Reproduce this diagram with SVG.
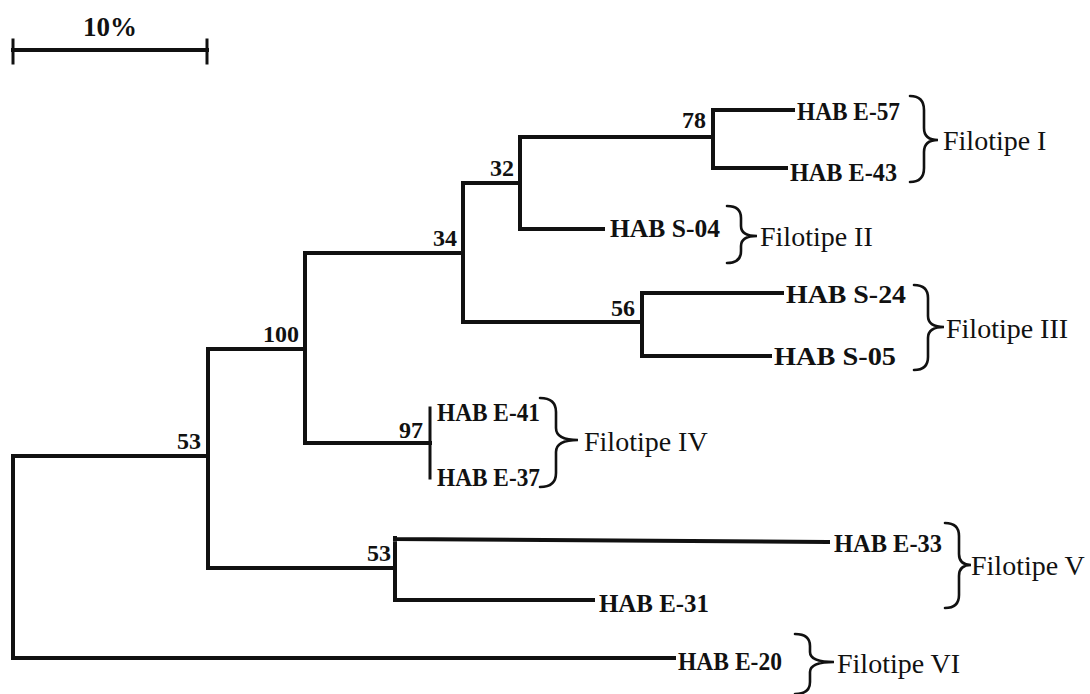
<svg xmlns="http://www.w3.org/2000/svg" width="1090" height="694" viewBox="0 0 1090 694">
<style>
.br{fill:none;stroke:#111;stroke-width:4;stroke-linecap:square}
.thin{stroke-width:3}
.leaf{font-family:"Liberation Serif",serif;font-weight:bold;font-size:25px;fill:#111}
.bs{font-family:"Liberation Serif",serif;font-weight:bold;font-size:24px;fill:#111;text-anchor:end}
.ft{font-family:"Liberation Serif",serif;font-size:28px;fill:#111}
.brace{fill:none;stroke:#111;stroke-width:2.6;stroke-linecap:round}
</style>
<rect width="1090" height="694" fill="#ffffff"/>
<g id="scale">
<line class="br" x1="13" y1="50" x2="207" y2="50"/>
<line class="br thin" x1="13" y1="40" x2="13" y2="63"/>
<line class="br thin" x1="207" y1="40" x2="207" y2="63"/>
<text x="110" y="36" text-anchor="middle" style="font-family:'Liberation Serif',serif;font-weight:bold;font-size:27px;fill:#111">10%</text>
</g>
<g id="connectors">
<path class="br" d="M13,456 V658 M13,456 H208 M13,658 H674"/>
<path class="br" d="M208,349 V568 M208,349 H305 M208,568 H395"/>
<path class="br" d="M305,253 V443 M305,253 H463 M305,443 H430"/>
<path class="br thin" d="M430,408 V478"/>
<path class="br" d="M463,183 V322 M463,183 H520 M463,322 H642"/>
<path class="br" d="M520,137 V229 M520,137 H713 M520,229 H603"/>
<path class="br" d="M713,110 V168 M713,110 H793 M713,168 H786"/>
<path class="br" d="M642,293 V356 M642,293 H782 M642,356 H770"/>
<path class="br" d="M395,538 V600 M395,539 L828,542 M395,600 H593"/>
</g>
<g id="bootstrap">
<text class="bs" x="706" y="128">78</text>
<text class="bs" x="514" y="176">32</text>
<text class="bs" x="457" y="246">34</text>
<text class="bs" x="635" y="316">56</text>
<text class="bs" x="299" y="342">100</text>
<text class="bs" x="423" y="438">97</text>
<text class="bs" x="201" y="449">53</text>
<text class="bs" x="391" y="561">53</text>
</g>
<g id="leaf-E57"><text class="leaf" x="797" y="120" textLength="103" lengthAdjust="spacingAndGlyphs">HAB E-57</text></g>
<g id="leaf-E43"><text class="leaf" x="790" y="181" textLength="107" lengthAdjust="spacingAndGlyphs">HAB E-43</text></g>
<g id="leaf-S04"><text class="leaf" x="610" y="237" textLength="110" lengthAdjust="spacingAndGlyphs">HAB S-04</text></g>
<g id="leaf-S24"><text class="leaf" x="786" y="303" textLength="120" lengthAdjust="spacingAndGlyphs">HAB S-24</text></g>
<g id="leaf-S05"><text class="leaf" x="774" y="365" textLength="122" lengthAdjust="spacingAndGlyphs">HAB S-05</text></g>
<g id="leaf-E41"><text class="leaf" x="437" y="421" textLength="103" lengthAdjust="spacingAndGlyphs">HAB E-41</text></g>
<g id="leaf-E37"><text class="leaf" x="437" y="486" textLength="103" lengthAdjust="spacingAndGlyphs">HAB E-37</text></g>
<g id="leaf-E33"><text class="leaf" x="834" y="552" textLength="108" lengthAdjust="spacingAndGlyphs">HAB E-33</text></g>
<g id="leaf-E31"><text class="leaf" x="599" y="612" textLength="110" lengthAdjust="spacingAndGlyphs">HAB E-31</text></g>
<g id="leaf-E20"><text class="leaf" x="678" y="670" textLength="104" lengthAdjust="spacingAndGlyphs">HAB E-20</text></g>
<g id="filotipe-I">
<path class="brace" d="M910,96 Q924,96 924,110 V128 Q924,140 938,140 Q924,140 924,152 V168 Q924,182 910,182"/>
<text class="ft" x="943" y="150">Filotipe I</text>
</g>
<g id="filotipe-II">
<path class="brace" d="M727,206 Q741,206 741,218 V226 Q741,236 757,236 Q741,236 741,246 V251 Q741,263 727,263"/>
<text class="ft" x="760" y="246">Filotipe II</text>
</g>
<g id="filotipe-III">
<path class="brace" d="M914,285 Q928,285 928,298 V316 Q928,327 944,327 Q928,327 928,338 V357 Q928,370 914,370"/>
<text class="ft" x="946" y="338">Filotipe III</text>
</g>
<g id="filotipe-IV">
<path class="brace" d="M540,398 Q556,398 556,412 V428 Q556,440 578,440 Q556,440 556,452 V473 Q556,487 540,487"/>
<text class="ft" x="584" y="451">Filotipe IV</text>
</g>
<g id="filotipe-V">
<path class="brace" d="M945,523 Q959,523 959,536 V554 Q959,565 971,565 Q959,565 959,576 V595 Q959,608 945,608"/>
<text class="ft" x="971" y="575">Filotipe V</text>
</g>
<g id="filotipe-VI">
<path class="brace" d="M795,634 Q810,634 810,646 V652 Q810,662 834,662 Q810,662 810,672 V682 Q810,694 795,694"/>
<text class="ft" x="837" y="673">Filotipe VI</text>
</g>
</svg>
